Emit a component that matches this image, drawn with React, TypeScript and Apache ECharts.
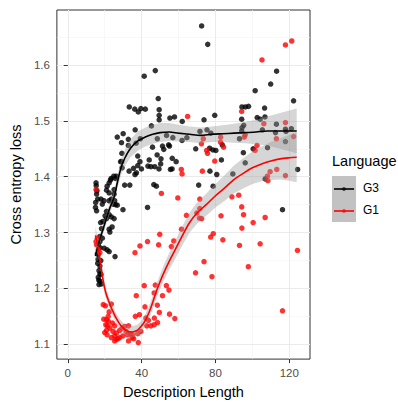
import React, { useEffect, useRef } from "react";
import * as echarts from "echarts";

// ---------- data ----------
const g3Points: [number, number][] = [
  [72.5,1.670],[75.8,1.637],[41.4,1.580],[47.4,1.590],[49.0,1.540],[49.5,1.520],[49.5,1.510],[49.5,1.502],
  [33.3,1.525],[36.3,1.521],[38.2,1.516],[39.6,1.522],[42.0,1.521],[55.3,1.505],[57.8,1.507],[62.0,1.499],
  [36.5,1.484],[26.8,1.471],[30.0,1.477],[32.8,1.467],[29.1,1.461],[32.8,1.456],[37.0,1.460],[39.3,1.468],
  [45.3,1.491],[48.5,1.468],[53.5,1.474],[56.9,1.470],[54.6,1.457],[48.4,1.439],[37.9,1.437],[29.3,1.442],
  [29.2,1.427],[29.4,1.416],[39.1,1.427],[44.1,1.430],[43.4,1.419],[45.0,1.418],[47.1,1.418],[50.5,1.432],
  [50.3,1.423],[52.0,1.449],[49.4,1.414],[56.6,1.433],[58.7,1.427],[55.6,1.413],[35.6,1.415],[37.2,1.407],
  [39.9,1.414],[33.2,1.410],[26.3,1.401],[23.5,1.397],[46.6,1.386],[70.9,1.385],[33.6,1.385],[30.8,1.385],
  [45.9,1.453],[51.3,1.455],[55.1,1.455],[61.9,1.465],[71.6,1.481],[37.9,1.420],[36.4,1.404],
  [113.1,1.589],[109.9,1.566],[101.5,1.554],[122.3,1.536],[94.3,1.525],[96.2,1.525],[97.9,1.526],[106.6,1.523],
  [102.6,1.506],[104.2,1.503],[106.8,1.507],[79.6,1.510],[73.8,1.502],[94.2,1.503],[95.3,1.492],[94.4,1.488],
  [113.0,1.494],[117.9,1.485],[121.1,1.486],[117.9,1.463],[93.0,1.468],[83.7,1.457],[75.4,1.484],[77.5,1.478],
  [64.5,1.470],[69.3,1.450],[76.8,1.451],[78.6,1.448],[80.2,1.447],[83.2,1.430],[77.0,1.410],[80.7,1.404],
  [78.7,1.383],[95.1,1.443],[100.4,1.450],[108.2,1.452],[124.5,1.413],[106.9,1.396],[116.3,1.341],[96.1,1.425],
  [89.4,1.405],[105.4,1.484],[94.2,1.482],[112.5,1.479],[118.2,1.481],[48.0,1.383],[56.5,1.414],
  [15.3,1.389],[15.4,1.384],[15.6,1.369],[15.1,1.354],[15.0,1.345],[15.6,1.339],[18.0,1.360],[18.7,1.351],
  [22.4,1.357],[24.5,1.351],[25.8,1.350],[26.8,1.349],[29.9,1.341],[21.0,1.338],[22.4,1.332],[23.6,1.328],
  [25.1,1.325],[21.0,1.325],[24.0,1.310],[22.4,1.306],[22.8,1.301],[17.4,1.293],[18.7,1.290],[17.4,1.284],
  [16.5,1.278],[17.4,1.273],[19.7,1.272],[21.3,1.269],[22.4,1.266],[25.6,1.257],[16.5,1.261],[16.4,1.252],
  [17.4,1.240],[16.9,1.232],[17.4,1.226],[16.5,1.220],[17.4,1.213],[18.3,1.208],[16.9,1.207],[16.0,1.262],
  [43.2,1.345],[21.3,1.383],[22.4,1.389],[23.1,1.394],[24.9,1.401],[25.8,1.397],[21.0,1.376],[22.4,1.371],
  [25.1,1.377],[25.1,1.369],[23.6,1.360],[25.4,1.357],[19.6,1.357],[28.6,1.427],[18.3,1.307],[17.8,1.318],
  [16.2,1.245],[17.9,1.250],[16.8,1.215],[18.0,1.225],[15.8,1.375],[16.2,1.360],[20.2,1.330],[19.0,1.320]
];

const g1Points: [number, number][] = [
  [117.9,1.636],[121.3,1.643],[105.2,1.609],[94.2,1.517],[64.9,1.508],[106.2,1.495],[117.9,1.497],[122.3,1.472],
  [113.0,1.468],[96.1,1.475],[82.8,1.471],[84.4,1.453],[72.4,1.459],[75.2,1.447],[75.7,1.442],[79.6,1.428],
  [72.9,1.410],[102.5,1.456],[101.5,1.447],[108.1,1.401],[109.6,1.409],[113.2,1.413],[117.9,1.402],[61.5,1.413],
  [61.9,1.405],[50.7,1.370],[15.3,1.377],[82.7,1.462],[73.4,1.468],[108.4,1.393],[59.6,1.362],[95.6,1.471],
  [88.9,1.364],[92.6,1.367],[94.2,1.346],[95.2,1.332],[83.0,1.330],[100.4,1.318],[106.9,1.327],[94.3,1.308],
  [78.8,1.298],[77.4,1.292],[84.0,1.287],[93.0,1.277],[104.2,1.280],[124.4,1.268],[97.8,1.239],[116.3,1.160],
  [73.8,1.248],[69.2,1.228],[78.1,1.221],[72.5,1.325],[71.5,1.360],[71.5,1.343],[71.3,1.326],[69.9,1.335],
  [64.3,1.331],[61.6,1.306],[57.4,1.285],[56.1,1.275],[49.8,1.297],[49.2,1.278],[43.2,1.284],[39.1,1.276],
  [36.4,1.264],[53.4,1.205],[54.8,1.197],[51.3,1.187],[48.5,1.170],[49.6,1.157],[55.1,1.154],[58.0,1.146],
  [48.6,1.139],[46.8,1.135],[47.4,1.206],[46.8,1.192],[41.4,1.205],[37.1,1.187],
  [15.3,1.284],[15.6,1.278],[16.5,1.269],[17.4,1.264],[16.0,1.290],[19.2,1.171],[20.4,1.169],[23.6,1.172],
  [22.4,1.158],[41.8,1.167],
  [36.6,1.150],[38.8,1.153],[42.3,1.147],[43.7,1.143],[46.9,1.147],[45.0,1.133],[42.8,1.133],[37.9,1.119],
  [39.6,1.123],[38.2,1.103],[35.7,1.110],[32.9,1.133],[30.8,1.132],[32.5,1.117],[29.9,1.115],[28.1,1.112],
  [26.3,1.109],[25.4,1.115],[21.9,1.150],[21.0,1.144],[20.6,1.135],[21.0,1.125],[21.3,1.117],[22.8,1.129],
  [24.2,1.138],[24.5,1.123],[25.4,1.133],[23.6,1.112],[26.3,1.120],[28.1,1.125],[29.5,1.129],[31.6,1.123],
  [33.8,1.119],[34.8,1.112],[25.4,1.106],[35.2,1.117],[21.5,1.133],[32.9,1.106],[27.2,1.110],[20.0,1.121],
  [22.0,1.141],[19.5,1.145]
];

const g3FitX = [15,17,19,21,23,25,27,29,31,34,38,42,46,50,55,60,66,72,78,84,90,96,102,108,116,124];
const g3Fit = [1.258,1.284,1.305,1.326,1.346,1.362,1.392,1.418,1.434,1.451,1.464,1.471,1.476,1.479,1.480,1.478,1.476,1.474,1.476,1.477,1.478,1.479,1.480,1.482,1.482,1.482];
const g3Se = [0.010,0.009,0.009,0.009,0.009,0.010,0.012,0.014,0.015,0.016,0.017,0.017,0.017,0.017,0.016,0.015,0.014,0.014,0.014,0.015,0.017,0.019,0.022,0.026,0.033,0.040];

const g1FitX = [15,16,17,18,19,20,21,22,23,24,25,26,28,30,32,34,36,38,40,42,44,46,48,50,52,55,58,62,66,70,75,80,85,90,95,100,105,110,115,120,124];
const g1Fit = [1.295,1.280,1.262,1.240,1.217,1.200,1.188,1.179,1.170,1.162,1.155,1.148,1.137,1.129,1.124,1.122,1.123,1.126,1.133,1.143,1.157,1.175,1.195,1.212,1.228,1.249,1.268,1.294,1.318,1.335,1.350,1.366,1.380,1.395,1.406,1.416,1.423,1.428,1.432,1.434,1.435];
const g1Se = [0.016,0.014,0.012,0.011,0.010,0.010,0.009,0.009,0.009,0.009,0.009,0.009,0.009,0.009,0.009,0.010,0.010,0.010,0.010,0.011,0.011,0.012,0.012,0.013,0.014,0.015,0.016,0.017,0.018,0.019,0.020,0.021,0.023,0.025,0.027,0.029,0.031,0.034,0.037,0.041,0.045];

const xTicks = [0, 40, 80, 120];
const xMinor = [20, 60, 100];
const yTicks = [1.1, 1.2, 1.3, 1.4, 1.5, 1.6];
const yMinor = [1.15, 1.25, 1.35, 1.45, 1.55, 1.65];

const groups = ["G3", "G1"];
const groupColors = ["#000000", "#FF0000"];

// ---------- chart ----------
const FONT = "'Liberation Sans', Arial, sans-serif";
const BAND = "rgba(153,153,153,0.4)";

function bandSeries(name: string, xs: number[], fit: number[], se: number[]) {
  const rows = xs.map((x, i) => [x, fit[i] - se[i], fit[i] + se[i]]);
  return {
    type: "custom",
    name: name + "-band",
    silent: true,
    z: 3,
    data: [rows[0]],
    encode: { x: 0, y: 1 },
    renderItem: (params: any, api: any) => {
      const upper = rows.map((r) => api.coord([r[0], r[2]]));
      const lower = rows.slice().reverse().map((r) => api.coord([r[0], r[1]]));
      return {
        type: "polygon",
        shape: { points: upper.concat(lower) },
        style: { fill: BAND, stroke: "none" },
      };
    },
  };
}

export default function App() {
  const ref = useRef<HTMLDivElement>(null);
  useEffect(() => {
    if (!ref.current) return;
    const chart = echarts.init(ref.current, null, { renderer: "svg" });
    const major = { color: "#EBEBEB", width: 1, type: "solid" };
    const minor = { color: "#F3F3F3", width: 0.6, type: "solid" };
    const gridLines = [
      ...xMinor.map((v) => ({ xAxis: v, lineStyle: minor })),
      ...yMinor.map((v) => ({ yAxis: v, lineStyle: minor })),
      ...xTicks.map((v) => ({ xAxis: v, lineStyle: major })),
      ...yTicks.map((v) => ({ yAxis: v, lineStyle: major })),
    ];
    const legendY = [189, 211];
    const option: any = {
      animation: false,
      backgroundColor: "#FFFFFF",
      grid: {
        left: 53, top: 10, width: 257, height: 356, show: true,
        borderColor: "#333333", borderWidth: 1, backgroundColor: "#FFFFFF",
      },
      xAxis: {
        type: "value", min: -5.9, max: 131.2,
        name: "Description Length", nameLocation: "middle", nameGap: 23,
        nameTextStyle: { color: "#000", fontSize: 14.5, fontFamily: FONT },
        axisLine: { show: false },
        axisTick: { show: true, customValues: xTicks, length: 4, lineStyle: { color: "#333" } },
        axisLabel: { customValues: xTicks, color: "#4D4D4D", fontSize: 11.5, fontFamily: FONT, margin: 8 },
        splitLine: { show: false },
      },
      yAxis: {
        type: "value", min: 1.0735, max: 1.6985,
        name: "Cross entropy loss", nameLocation: "middle", nameGap: 27,
        nameTextStyle: { color: "#000", fontSize: 14.5, fontFamily: FONT },
        axisLine: { show: false },
        axisTick: { show: true, customValues: yTicks, length: 4, lineStyle: { color: "#333" } },
        axisLabel: { customValues: yTicks, color: "#4D4D4D", fontSize: 11.5, fontFamily: FONT, margin: 7,
          formatter: (v: number) => v.toFixed(1) },
        splitLine: { show: false },
      },
      series: [
        {
          type: "line", name: "grid", data: [], silent: true, z: 0, zlevel: 0,
          markLine: { silent: true, z: 0, symbol: "none", label: { show: false }, animation: false, data: gridLines },
        },
        { type: "scatter", name: groups[0], data: g3Points, symbolSize: 5.5, itemStyle: { color: groupColors[0] }, z: 2 },
        { type: "scatter", name: groups[1], data: g1Points, symbolSize: 5.5, itemStyle: { color: groupColors[1] }, z: 2 },
        bandSeries("g3", g3FitX, g3Fit, g3Se),
        {
          type: "line", name: "G3 fit", data: g3FitX.map((x, i) => [x, g3Fit[i]]), symbol: "none",
          smooth: 0.3, lineStyle: { color: groupColors[0], width: 1.6 }, z: 4, silent: true,
        },
        bandSeries("g1", g1FitX, g1Fit, g1Se),
        {
          type: "line", name: "G1 fit", data: g1FitX.map((x, i) => [x, g1Fit[i]]), symbol: "none",
          smooth: 0.3, lineStyle: { color: groupColors[1], width: 1.6 }, z: 4, silent: true,
        },
      ],
      graphic: [
        { type: "text", left: 332, top: 153, style: { text: "Language", fontSize: 14.5, fontFamily: FONT, fill: "#000" } },
        { type: "rect", shape: { x: 332, y: 176, width: 24, height: 46 }, style: { fill: "#C2C2C2" } },
        ...groups.flatMap((g, i) => [
          { type: "line", shape: { x1: 334, y1: legendY[i], x2: 354, y2: legendY[i] }, style: { stroke: groupColors[i], lineWidth: 1.6 } },
          { type: "circle", shape: { cx: 344, cy: legendY[i], r: 2 }, style: { fill: groupColors[i], opacity: 0.6 } },
          { type: "text", left: 363, top: legendY[i] - 7, style: { text: g, fontSize: 12, fontFamily: FONT, fill: "#000" } },
        ]),
      ],
    };
    chart.setOption(option);
    return () => chart.dispose();
  }, []);
  return <div ref={ref} style={{ position: "fixed", left: 0, top: 0, width: 398, height: 404 }} />;
}
